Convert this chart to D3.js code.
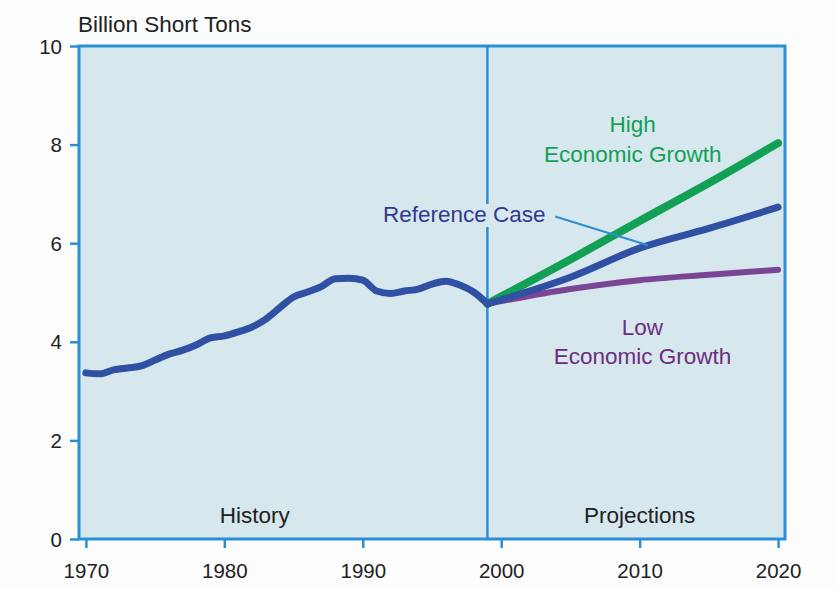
<!DOCTYPE html>
<html>
<head>
<meta charset="utf-8">
<script src="https://cdn.jsdelivr.net/npm/d3@7"></script>
<style>
  body { margin: 0; background: #fdfdfd; }
  text { font-family: "Liberation Sans", Arial, sans-serif; }
</style>
</head>
<body>
<script>
// history data (billion short tons)
var histYears = [1970,1971,1972,1973,1974,1975,1976,1977,1978,1979,1980,1981,1982,1983,1984,
                 1985,1986,1987,1988,1989,1990,1991,1992,1993,1994,1995,1996,1997,1998,1999];
var histValues = [3.37,3.35,3.43,3.47,3.51,3.63,3.75,3.83,3.94,4.08,4.12,4.20,4.30,4.46,4.69,
                  4.91,5.01,5.12,5.28,5.29,5.25,5.03,4.98,5.03,5.07,5.17,5.23,5.15,5.01,4.77];

// projections
var projYears = [1999, 2005, 2010, 2015, 2020];
var highValues = [4.77, 5.67, 6.45, 7.22, 8.03];
var refValues = [4.77, 5.31, 5.90, 6.30, 6.73];
var lowValues = [4.77, 5.07, 5.25, 5.36, 5.46];

var xTicks = [1970, 1980, 1990, 2000, 2010, 2020];
var yTicks = [0, 2, 4, 6, 8, 10];

var svgWidth = 836, svgHeight = 589;
var margin = {top: 46, left: 79, right: 51, bottom: 50};
var chartWidth = svgWidth - margin.left - margin.right;
var chartHeight = svgHeight - margin.top - margin.bottom;

var svg = d3.select('body').append('svg').attr('width', svgWidth).attr('height', svgHeight);
var chartGroup = svg.append('g').attr('transform', `translate(${margin.left},${margin.top})`);

var xScale = d3.scaleLinear().domain([1969.5, 2020.5]).range([0, chartWidth]);
var yScale = d3.scaleLinear().domain([0, 10]).range([chartHeight, 0]);

var axisBlue = '#2b8fd3';
var plotFill = '#d7e7ee';

// plot background
chartGroup.append('rect')
    .attr('width', chartWidth).attr('height', chartHeight)
    .attr('fill', plotFill);

// ticks
var bottomAxis = d3.axisBottom(xScale).tickValues(xTicks).tickSize(9).tickPadding(15).tickFormat(d3.format('d'));
var leftAxis = d3.axisLeft(yScale).tickValues(yTicks).tickSize(9).tickPadding(8);

var xAxis = chartGroup.append('g').attr('transform', `translate(0,${chartHeight})`).call(bottomAxis);
var yAxis = chartGroup.append('g').call(leftAxis);
[xAxis, yAxis].forEach(function(ax) {
    ax.select('.domain').remove();
    ax.selectAll('line').attr('stroke', axisBlue).attr('stroke-width', 2.5);
    ax.selectAll('text').attr('fill', '#222').style('font-size', '20.5px');
});
yAxis.selectAll('text').attr('dy', '0.35em');

// frame
chartGroup.append('rect')
    .attr('width', chartWidth).attr('height', chartHeight)
    .attr('fill', 'none').attr('stroke', axisBlue).attr('stroke-width', 3);

// history / projections divider
chartGroup.append('line')
    .attr('x1', xScale(1999)).attr('x2', xScale(1999))
    .attr('y1', 0).attr('y2', chartHeight)
    .attr('stroke', axisBlue).attr('stroke-width', 2.5);

var line = d3.line().x(d => xScale(d[0])).y(d => yScale(d[1])).curve(d3.curveMonotoneX);

function drawSeries(years, values, color, width) {
    chartGroup.append('path')
        .datum(years.map((y, i) => [y, values[i]]))
        .attr('d', line)
        .attr('fill', 'none')
        .attr('stroke', color)
        .attr('stroke-width', width)
        .attr('stroke-linecap', 'round')
        .attr('stroke-linejoin', 'round');
}

drawSeries(projYears, lowValues, '#7a4595', 6);
drawSeries(projYears, highValues, '#12a055', 8);
drawSeries(projYears, refValues, '#3050a3', 7);
drawSeries(histYears, histValues, '#3050a3', 7);

// labels
svg.append('text').attr('x', 78).attr('y', 32).text('Billion Short Tons')
    .attr('fill', '#222').style('font-size', '22.5px');

chartGroup.append('text').attr('x', xScale(1982.2)).attr('y', yScale(0.33)).attr('text-anchor', 'middle')
    .text('History').attr('fill', '#222').style('font-size', '22.5px');
chartGroup.append('text').attr('x', xScale(2010)).attr('y', yScale(0.33)).attr('text-anchor', 'middle')
    .text('Projections').attr('fill', '#222').style('font-size', '22.5px');

var high = chartGroup.append('text').attr('text-anchor', 'middle').attr('fill', '#12a055').style('font-size', '22.5px');
high.append('tspan').attr('x', xScale(2009.5)).attr('y', yScale(8.25)).text('High');
high.append('tspan').attr('x', xScale(2009.5)).attr('y', yScale(7.64)).text('Economic Growth');

var low = chartGroup.append('text').attr('text-anchor', 'middle').attr('fill', '#6d2d7d').style('font-size', '22.5px');
low.append('tspan').attr('x', xScale(2010.2)).attr('y', yScale(4.13)).text('Low');
low.append('tspan').attr('x', xScale(2010.2)).attr('y', yScale(3.54)).text('Economic Growth');

// reference case label with pointer
var refLabel = chartGroup.append('text').attr('x', xScale(2003.2)).attr('y', yScale(6.43))
    .attr('text-anchor', 'end').text('Reference Case')
    .attr('fill', '#2f3a8f').style('font-size', '22.5px');
var bb = refLabel.node().getBBox();
chartGroup.insert('rect', () => refLabel.node())
    .attr('x', bb.x).attr('y', bb.y + 2).attr('width', bb.width).attr('height', bb.height - 2)
    .attr('fill', plotFill);
chartGroup.append('line')
    .attr('x1', xScale(2003.9)).attr('y1', yScale(6.54))
    .attr('x2', xScale(2010.6)).attr('y2', yScale(5.96))
    .attr('stroke', axisBlue).attr('stroke-width', 2);
</script>
</body>
</html>
